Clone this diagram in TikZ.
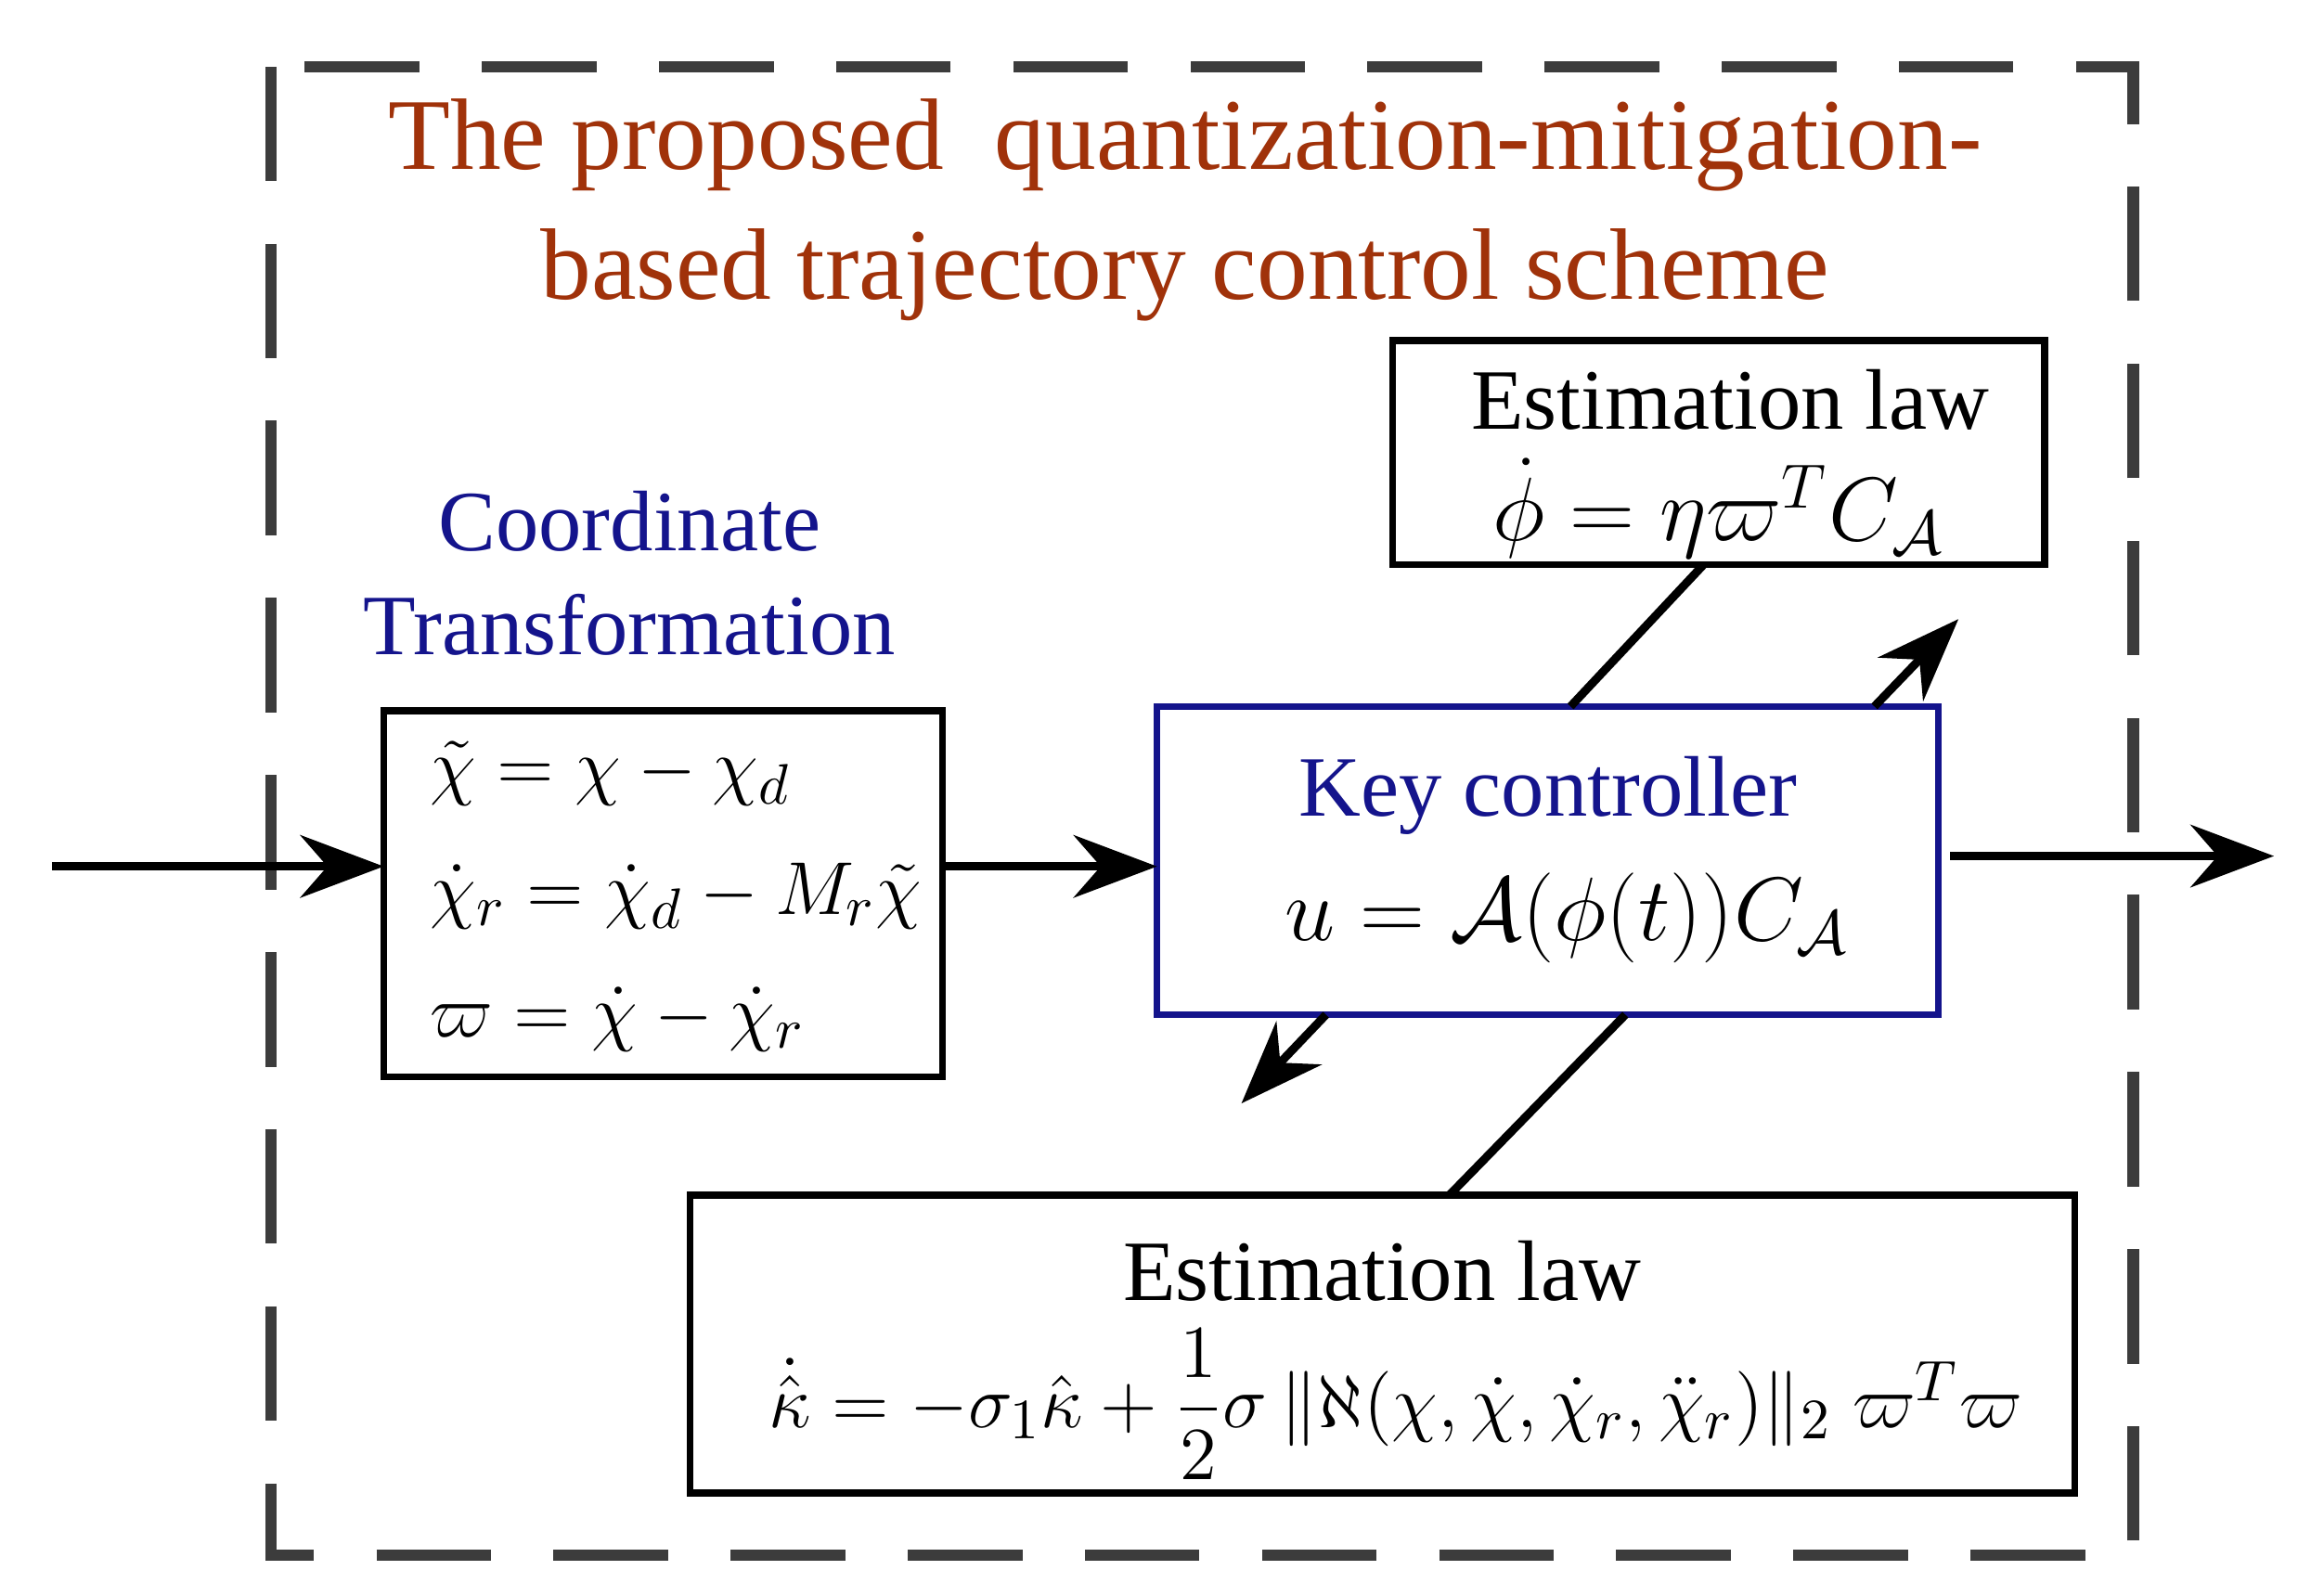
\documentclass[tikz,border=0pt]{standalone}
\usepackage{amsmath,amssymb}
\usepackage{fontspec}
\setmainfont{Liberation Serif}
\usetikzlibrary{arrows.meta}
\definecolor{brn}{RGB}{160,50,10}
\definecolor{nv}{RGB}{20,20,140}
\definecolor{dg}{RGB}{60,60,60}
\begin{document}
\begin{tikzpicture}[x=0.01cm,y=-0.01cm,
  box/.style={draw,line width=1.3pt,inner sep=0pt,outer sep=0pt},
  arr/.style={line width=1.6pt,-{Stealth[length=16pt,width=12pt]}},
  ln/.style={line width=1.6pt}]
\useasboundingbox (0,0) rectangle (1560,1077);
\draw[dg,line width=2.2pt,dash pattern=on 22pt off 12pt] (183,45) rectangle (1440,1050);
\node[brn,font=\fontsize{19.5}{23}\selectfont,align=center] (title) at (800,142)
  {The proposed~ quantization-mitigation-\\[2pt]based trajectory control scheme};
\node[nv,font=\fontsize{16.5}{20}\selectfont,align=center] (ct) at (425,387) {Coordinate\\Transformation};
% left box
\node[box,minimum width=3.77cm,minimum height=2.47cm,anchor=north west] (lb) at (259,480) {};
\node[anchor=west,font=\fontsize{15}{18}\selectfont] (e1) at (278,522) {$\tilde\chi=\chi-\chi_d$};
\node[anchor=west,font=\fontsize{15}{18}\selectfont] (e2) at (278,605) {$\dot\chi_r=\dot\chi_d-M_r\tilde\chi$};
\node[anchor=west,font=\fontsize{15}{18}\selectfont] (e3) at (278,688) {$\varpi=\dot\chi-\dot\chi_r$};
% key controller
\node[box,draw=nv,minimum width=5.27cm,minimum height=2.08cm,anchor=north west] (kc) at (781,477) {};
\node[nv,font=\fontsize{16.5}{20}\selectfont] (kt) at (1045,537) {Key controller};
\node[font=\fontsize{17}{20}\selectfont] (ke) at (1058,620) {$u=\mathcal{A}(\phi(t))C_{\mathcal{A}}$};
% top estimation box
\node[box,minimum width=4.40cm,minimum height=1.51cm,anchor=north west] (tb) at (940,230) {};
\node[font=\fontsize{16.5}{20}\selectfont] (tt) at (1168,270) {Estimation law};
\node[font=\fontsize{17}{20}\selectfont] (te) at (1160,343) {$\dot\phi=\eta\varpi^{T}C_{\mathcal{A}}$};
% bottom estimation box
\node[box,minimum width=9.34cm,minimum height=2.01cm,anchor=north west] (bb) at (466,807) {};
\node[font=\fontsize{16.5}{20}\selectfont] (bt) at (933,858) {Estimation law};
\node[font=\fontsize{15}{18}\selectfont] (be) at (942,948)
  {$\dot{\hat\kappa}=-\sigma_1\hat\kappa+\dfrac{1}{2}\sigma\,\|\aleph(\chi,\dot\chi,\dot\chi_r,\ddot\chi_r)\|_2\;\varpi^{T}\varpi$};
% connectors
\coordinate (in) at (35,585);
\coordinate (out) at (1535,578);
\coordinate (ua) at (1322,418);
\coordinate (da) at (838,745);
\draw[arr] (in) -- (lb.west |- in);
\draw[arr] (lb.east |- in) -- (kc.west |- in);
\draw[arr] ([xshift=0.08cm]kc.east |- out) -- (out);
\draw[ln] ([xshift=2.10cm]tb.south west) -- ([xshift=2.79cm]kc.north west);
\draw[arr] ([xshift=4.84cm]kc.north west) -- (ua);
\draw[ln] ([xshift=3.16cm]kc.south west) -- ([xshift=5.12cm]bb.north west);
\draw[arr] ([xshift=1.14cm]kc.south west) -- (da);
\end{tikzpicture}
\end{document}
